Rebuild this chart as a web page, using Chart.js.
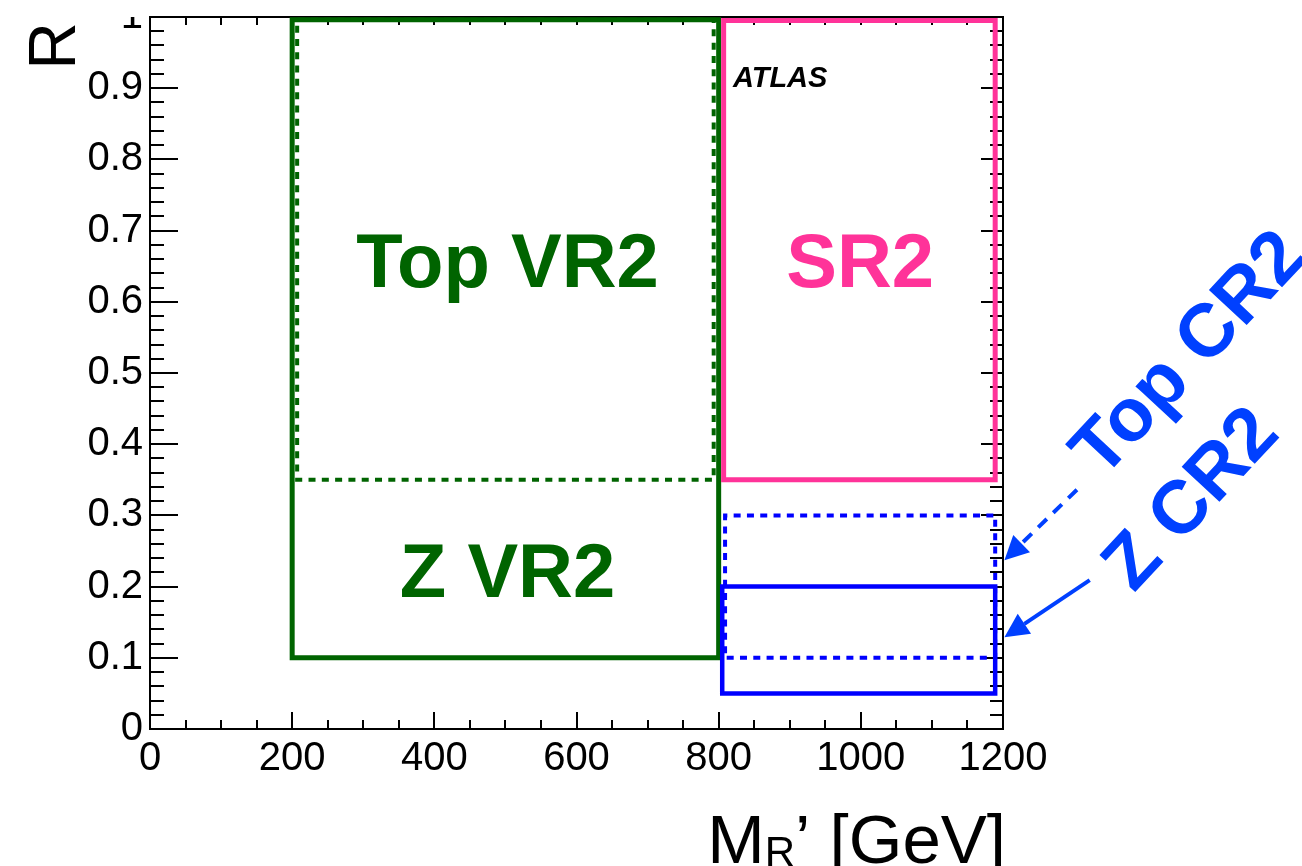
<!DOCTYPE html>
<html>
<head>
<meta charset="utf-8">
<script src="https://cdn.jsdelivr.net/npm/chart.js@4/dist/chart.umd.min.js"></script>
<style>
  html, body { margin: 0; padding: 0; background: #ffffff; }
  #wrap { width: 1302px; height: 866px; }
</style>
</head>
<body>
<div id="wrap"><canvas id="regions" width="1302" height="866"></canvas></div>
<script>
// Region boundaries: [low, high] in M_R' [GeV] and in R
const topVR2X = [207, 793];
const topVR2Y = [0.35, 0.996];
const zVR2X = [200, 800];
const zVR2Y = [0.1, 0.996];
const sr2X = [807, 1189];
const sr2Y = [0.35, 0.995];
const topCR2X = [809, 1189];
const topCR2Y = [0.1, 0.3];
const zCR2X = [805, 1189];
const zCR2Y = [0.05, 0.2];

// Axis ticks
const xTickValues = [0, 200, 400, 600, 800, 1000, 1200];
const xTickLabels = ['0', '200', '400', '600', '800', '1000', '1200'];
const yTickValues = [0, 0.1, 0.2, 0.3, 0.4, 0.5, 0.6, 0.7, 0.8, 0.9, 1];
const yTickLabels = ['0', '0.1', '0.2', '0.3', '0.4', '0.5', '0.6', '0.7', '0.8', '0.9', '1'];

// Arrows pointing at the control regions: [start, tip]
const topCR2ArrowX = [1304, 1202];
const topCR2ArrowY = [0.336, 0.237];
const zCR2ArrowX = [1322, 1202];
const zCR2ArrowY = [0.209, 0.129];

const FONT = '"Liberation Sans", Arial, Helvetica, sans-serif';
const GREEN = '#006400';
const PINK = '#ff3399';
const BLUE = '#0000ff';
const LABEL_BLUE = '#0040ff';

// Closed outline of a box, starting mid-edge so every corner is a proper join
function box(xs, ys) {
  const mid = (xs[0] + xs[1]) / 2;
  return [
    { x: mid, y: ys[0] }, { x: xs[1], y: ys[0] }, { x: xs[1], y: ys[1] },
    { x: xs[0], y: ys[1] }, { x: xs[0], y: ys[0] }, { x: mid, y: ys[0] }
  ];
}

function outline(label, xs, ys, color, width, dash) {
  return {
    label, data: box(xs, ys), showLine: true, fill: false, tension: 0,
    borderColor: color, borderWidth: width, borderDash: dash || [],
    borderJoinStyle: 'miter', pointRadius: 0, pointHoverRadius: 0, clip: false
  };
}

// Text annotations, anchored in data coordinates
const regionLabels = [
  { text: 'Top VR2', x: 503, y: 0.621, color: GREEN, font: 'bold 76px ' + FONT, align: 'center' },
  { text: 'SR2', x: 999, y: 0.621, color: PINK, font: 'bold 76px ' + FONT, align: 'center' },
  { text: 'Z VR2', x: 503, y: 0.185, color: GREEN, font: 'bold 76px ' + FONT, align: 'center' },
  { text: 'ATLAS', x: 820, y: 0.9017, color: '#000000', font: 'italic bold 29px ' + FONT, align: 'left' }
];
const slantedLabels = [
  { text: 'Top CR2', x: 1457, y: 0.531 },
  { text: 'Z CR2', x: 1460, y: 0.327 }
];

const frameAndText = {
  id: 'frameAndText',
  beforeDraw(chart) {
    // keep axis labels from spilling above the frame top on the left
    const { ctx, chartArea: a, width: W, height: H } = chart;
    ctx.save();
    ctx.beginPath();
    ctx.rect(0, a.top, W, H - a.top);
    ctx.rect(a.left, 0, W - a.left, a.top);
    ctx.clip();
  },
  beforeDatasetsDraw(chart) {
    const { ctx, chartArea: a, scales: { x, y } } = chart;
    ctx.restore();
    ctx.save();
    ctx.strokeStyle = '#000000';
    ctx.lineWidth = 2;
    ctx.strokeRect(a.left, a.top, a.right - a.left, a.bottom - a.top);
    ctx.beginPath();
    for (let v = 0; v <= 1200; v += 50) {
      const px = Math.round(x.getPixelForValue(v));
      const major = v % 200 === 0;
      ctx.moveTo(px, a.bottom); ctx.lineTo(px, a.bottom - (major ? 17 : 9));
      ctx.moveTo(px, a.top); ctx.lineTo(px, a.top + 8);
    }
    for (let i = 0; i <= 50; i++) {
      const py = Math.round(y.getPixelForValue(i * 0.02));
      const major = i % 5 === 0;
      ctx.moveTo(a.left, py); ctx.lineTo(a.left + (major ? 28 : 14), py);
      ctx.moveTo(a.right, py); ctx.lineTo(a.right - (major ? 22 : 13), py);
    }
    ctx.stroke();
    ctx.restore();
  },
  afterDraw(chart) {
    const { ctx, chartArea: a, scales: { x, y } } = chart;
    ctx.save();

    // region names
    ctx.textBaseline = 'alphabetic';
    regionLabels.forEach(l => {
      ctx.font = l.font;
      ctx.fillStyle = l.color;
      ctx.textAlign = l.align;
      ctx.fillText(l.text, x.getPixelForValue(l.x), y.getPixelForValue(l.y));
    });

    // slanted control-region names
    ctx.font = 'bold 75px ' + FONT;
    ctx.fillStyle = LABEL_BLUE;
    ctx.textAlign = 'center';
    slantedLabels.forEach(l => {
      ctx.save();
      ctx.translate(x.getPixelForValue(l.x), y.getPixelForValue(l.y));
      ctx.rotate(-47 * Math.PI / 180);
      ctx.fillText(l.text, 0, 27);
      ctx.restore();
    });

    // arrows
    const arrow = (xs, ys, dashed) => {
      const x0 = x.getPixelForValue(xs[0]), y0 = y.getPixelForValue(ys[0]);
      const x1 = x.getPixelForValue(xs[1]), y1 = y.getPixelForValue(ys[1]);
      const ang = Math.atan2(y1 - y0, x1 - x0);
      const c = Math.cos(ang), s = Math.sin(ang);
      const headLen = 24, headHalf = 12;
      const bx = x1 - headLen * c, by = y1 - headLen * s;
      ctx.strokeStyle = LABEL_BLUE;
      ctx.fillStyle = LABEL_BLUE;
      ctx.lineWidth = 4;
      ctx.setLineDash(dashed ? [12, 9] : []);
      ctx.beginPath(); ctx.moveTo(x0, y0); ctx.lineTo(bx, by); ctx.stroke();
      ctx.setLineDash([]);
      ctx.beginPath();
      ctx.moveTo(x1, y1);
      ctx.lineTo(bx + headHalf * s, by - headHalf * c);
      ctx.lineTo(bx - headHalf * s, by + headHalf * c);
      ctx.closePath();
      ctx.fill();
    };
    arrow(topCR2ArrowX, topCR2ArrowY, true);
    arrow(zCR2ArrowX, zCR2ArrowY, false);

    // axis titles
    ctx.fillStyle = '#000000';
    ctx.save();
    ctx.translate(a.left - 75, a.top + 5);
    ctx.rotate(-Math.PI / 2);
    ctx.font = '66px ' + FONT;
    ctx.textAlign = 'right';
    ctx.fillText('R', 0, 0);
    ctx.restore();

    const rightX = a.right + 3, base = a.bottom + 134;
    ctx.textAlign = 'right';
    ctx.font = '69px ' + FONT;
    const tail = '\u2019 [GeV]';
    ctx.fillText(tail, rightX, base);
    const w1 = ctx.measureText(tail).width;
    ctx.font = '42px ' + FONT;
    ctx.fillText('R', rightX - w1, base + 3);
    const w2 = ctx.measureText('R').width;
    ctx.font = '69px ' + FONT;
    ctx.fillText('M', rightX - w1 - w2, base);

    ctx.restore();
  }
};

new Chart(document.getElementById('regions'), {
  type: 'scatter',
  data: {
    datasets: [
      outline('Top CR2', topCR2X, topCR2Y, BLUE, 4, [7, 6.3]),
      outline('Z CR2', zCR2X, zCR2Y, BLUE, 4.5),
      outline('SR2', sr2X, sr2Y, PINK, 5),
      outline('Top VR2', topVR2X, topVR2Y, GREEN, 4, [7, 6.3]),
      outline('Z VR2', zVR2X, zVR2Y, GREEN, 5)
    ]
  },
  options: {
    responsive: false,
    animation: false,
    events: [],
    devicePixelRatio: 1,
    layout: { padding: { left: 0, top: 17, right: 299, bottom: 0 } },
    plugins: { legend: { display: false }, tooltip: { enabled: false } },
    scales: {
      x: {
        type: 'linear', min: 0, max: 1200,
        grid: { display: false, drawTicks: false },
        border: { display: false },
        afterBuildTicks: s => { s.ticks = xTickValues.map(v => ({ value: v })); },
        afterFit: s => { s.height = 137; s.paddingLeft = 0; s.paddingRight = 0; },
        ticks: {
          autoSkip: false, maxRotation: 0, padding: 6, color: '#000000',
          font: { family: FONT, size: 40 },
          callback: (v, i) => xTickLabels[i]
        }
      },
      y: {
        type: 'linear', min: 0, max: 1,
        grid: { display: false, drawTicks: false },
        border: { display: false },
        afterBuildTicks: s => { s.ticks = yTickValues.map(v => ({ value: v })); },
        afterFit: s => { s.width = 150; s.paddingTop = 0; s.paddingBottom = 0; },
        ticks: {
          autoSkip: false, padding: 7, color: '#000000',
          font: { family: FONT, size: 40 },
          callback: (v, i) => yTickLabels[i]
        }
      }
    }
  },
  plugins: [frameAndText]
});
</script>
</body>
</html>
